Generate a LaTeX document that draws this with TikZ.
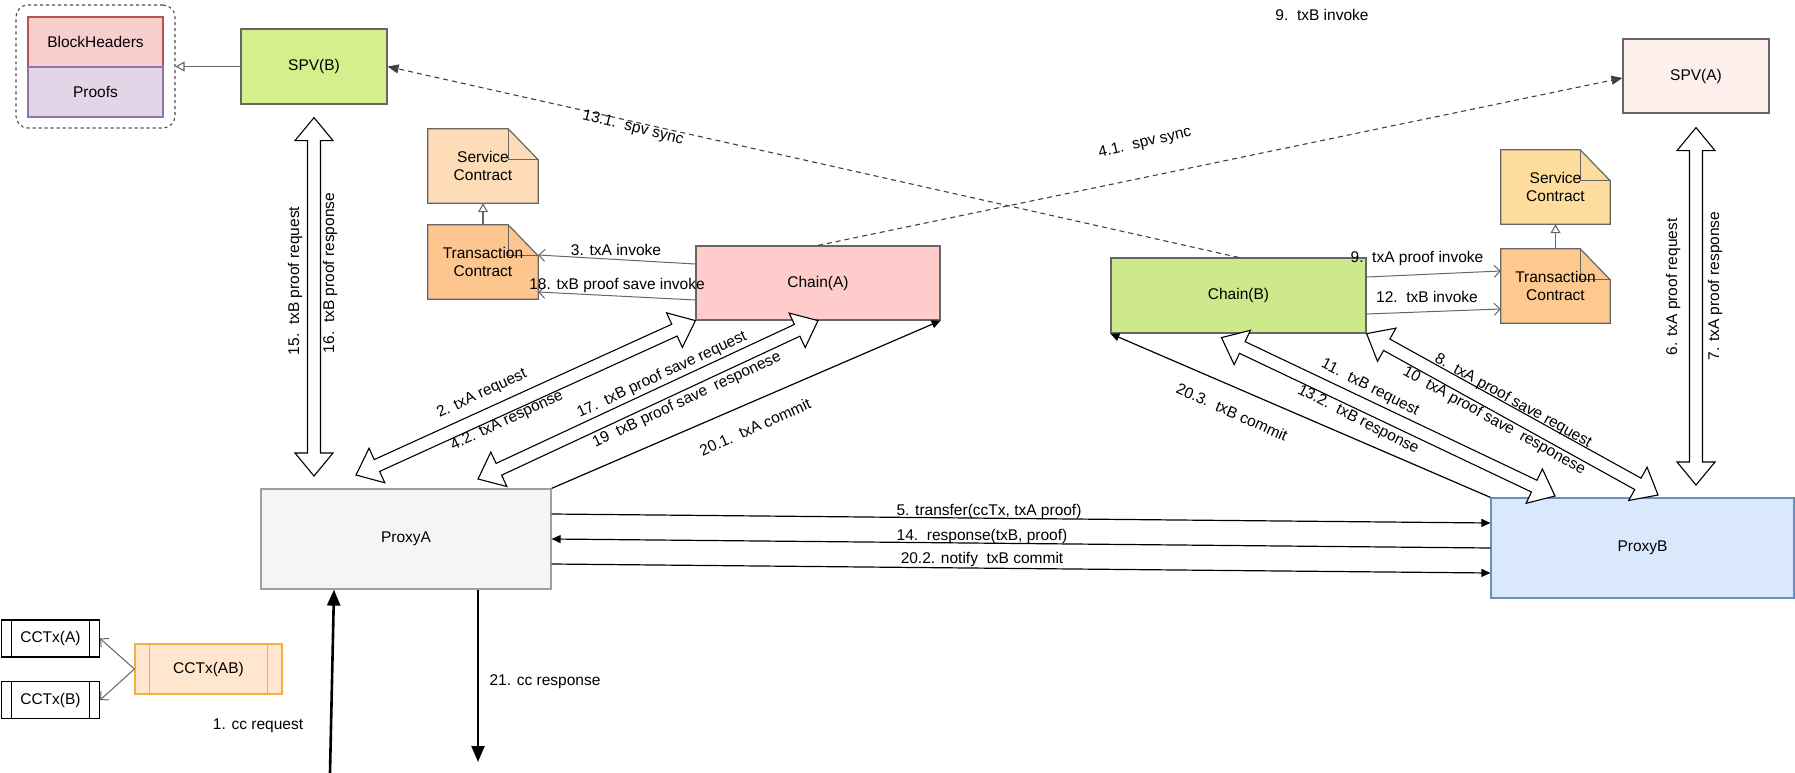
\documentclass[tikz,border=0pt]{standalone}
\usepackage{fontspec}
\setmainfont{Liberation Sans}
\usetikzlibrary{arrows.meta,calc}
\pgfdeclarelayer{bg}
\pgfsetlayers{bg,main}
\definecolor{cBH}{HTML}{F8CECC}\definecolor{sBH}{HTML}{B85450}
\definecolor{cPR}{HTML}{E1D5E7}\definecolor{sPR}{HTML}{9673A6}
\definecolor{cLime}{HTML}{D5EF8C}\definecolor{cChainB}{HTML}{CDE98C}
\definecolor{cChainA}{HTML}{FFCCCC}
\definecolor{cSpvA}{HTML}{FDF0EC}
\definecolor{cSvcL}{HTML}{FFDCB8}\definecolor{cTrL}{HTML}{FCC68E}
\definecolor{cSvcR}{HTML}{FEDC9E}\definecolor{cTrR}{HTML}{FDC98F}
\definecolor{cPxA}{HTML}{F5F5F5}\definecolor{sPxA}{HTML}{A0A0A0}
\definecolor{cPxB}{HTML}{DAE8FC}\definecolor{sPxB}{HTML}{6C8EBF}
\definecolor{cAB}{HTML}{FFE6CC}\definecolor{sAB}{HTML}{F0B040}
\definecolor{sGray}{HTML}{666666}
\newcommand\drawnote[2]{%
 \begin{pgfonlayer}{bg}
 \filldraw[fill=#2,draw=sGray,line width=1.2pt] (#1.south west) -- (#1.north west) -- ([xshift=-30pt]#1.north east) -- ([yshift=-31pt]#1.north east) -- (#1.south east) -- cycle;
 \draw[draw=sGray,line width=1.2pt] ([xshift=-30pt]#1.north east) -- ([xshift=-30pt,yshift=-31pt]#1.north east) -- ([yshift=-31pt]#1.north east);
 \end{pgfonlayer}}
\newcommand\flexdbl[2]{%
 \filldraw[flexst] (#1)
 -- ($(#1)!23pt!(#2)!19pt!90:(#2)$)
 -- ($(#1)!23pt!(#2)!6.5pt!90:(#2)$)
 -- ($(#2)!23pt!(#1)!6.5pt!90:(#2)$)
 -- ($(#2)!23pt!(#1)!19pt!90:(#2)$)
 -- (#2)
 -- ($(#2)!23pt!(#1)!19pt!270:(#2)$)
 -- ($(#2)!23pt!(#1)!6.5pt!270:(#2)$)
 -- ($(#1)!23pt!(#2)!6.5pt!270:(#2)$)
 -- ($(#1)!23pt!(#2)!19pt!270:(#2)$)
 -- cycle;}
\newcommand\procbar[2]{%
 \draw[line width=1.2pt,draw=#2] ([xshift=#1]\procname.north west) -- ([xshift=#1]\procname.south west);
 \draw[line width=1.2pt,draw=#2] ([xshift=-#1]\procname.north east) -- ([xshift=-#1]\procname.south east);}
\begin{document}
\begin{tikzpicture}[x=1pt,y=-1pt,
  font=\fontsize{15.5}{18}\selectfont,
  boxn/.style={draw=#1,line width=1.2pt,inner sep=0pt},
  notebox/.style={inner sep=0pt,align=center,minimum width=110pt,minimum height=74pt},
  flexst/.style={draw=black,fill=white,line width=1.1pt,line join=miter},
  thinarr/.style={draw=sGray,line width=1pt,-{Straight Barb[length=6pt,width=12pt]}},
  blackarr/.style={draw=black,line width=1.2pt,-{Triangle[length=9pt,width=8pt]}},
  dasharr/.style={draw=black!75,line width=1.1pt,dash pattern=on 5pt off 4pt,-{Triangle[length=11pt,width=9pt]}},
  openarr/.style={draw=sGray,line width=1.1pt,-{Triangle[open,length=9pt,width=10pt]}},
  lbl/.style={inner sep=0pt,text=black}]
\useasboundingbox (0,0) rectangle (1795,773);
% group box
\node[draw=black!70,dashed,line width=1.1pt,rounded corners=12pt,minimum width=159pt,minimum height=123pt] (grp) at (95.5,66.5) {};
\node[boxn=sBH,fill=cBH,minimum width=135pt,minimum height=50pt] (bh) at (95.5,42) {BlockHeaders};
\node[boxn=sPR,fill=cPR,minimum width=135pt,minimum height=50pt] (pr) at (95.5,92) {Proofs};
% main nodes
\node[boxn=sGray,fill=cLime,minimum width=146pt,minimum height=75pt] (spvB) at (314,66.5) {SPV(B)};
\node[boxn=sGray,fill=cSpvA,minimum width=146pt,minimum height=74pt] (spvA) at (1696,76) {SPV(A)};
\node[notebox] (svcL) at (483,166) {Service\\Contract};
\node[notebox] (trL) at (483,262) {Transaction\\Contract};
\node[notebox,minimum width=109pt] (svcR) at (1555.5,187) {Service\\Contract};
\node[notebox,minimum width=109pt] (trR) at (1555.5,286) {Transaction\\Contract};
\drawnote{svcL}{cSvcL}\drawnote{trL}{cTrL}\drawnote{svcR}{cSvcR}\drawnote{trR}{cTrR}
\node[boxn=sGray,fill=cChainA,minimum width=244pt,minimum height=74pt] (chainA) at (818,283) {Chain(A)};
\node[boxn=sGray,fill=cChainB,minimum width=255pt,minimum height=75pt] (chainB) at (1238.5,295.5) {Chain(B)};
\node[boxn=sPxA,fill=cPxA,minimum width=290pt,minimum height=100pt] (pxA) at (406,539) {ProxyA};
\node[boxn=sPxB,fill=cPxB,minimum width=303pt,minimum height=100pt] (pxB) at (1642.5,548) {ProxyB};
\node[boxn=black,fill=white,minimum width=98pt,minimum height=37pt] (ccA) at (50.5,638.5) {CCTx(A)};
\node[boxn=black,fill=white,minimum width=98pt,minimum height=37pt] (ccB) at (50.5,700) {CCTx(B)};
\node[boxn=sAB,fill=cAB,minimum width=147pt,minimum height=50pt] (ccAB) at (208.5,669) {CCTx(AB)};
\def\procname{ccA}\procbar{10.5pt}{black}
\def\procname{ccB}\procbar{10.5pt}{black}
\def\procname{ccAB}\procbar{15pt}{sAB}
% simple connectors
\draw[openarr] (spvB.west) -- (grp.east);
\draw[openarr] (trL.north) -- (svcL.south);
\draw[openarr] (trR.north) -- (svcR.south);
\draw[dasharr] (chainB.north) -- (spvB.east);
\draw[dasharr] (chainA.north) -- ([yshift=-2pt]spvA.west);
\draw[thinarr] ([yshift=19pt]chainA.west) -- ([yshift=7pt]trL.east);
\draw[thinarr] ([yshift=-17pt]chainA.west) -- ([yshift=-30pt]trL.east);
\draw[thinarr] ([yshift=18.5pt]chainB.east) -- ([yshift=15pt]trR.west);
\draw[thinarr] ([yshift=-18.5pt]chainB.east) -- ([yshift=-23pt]trR.west);
\draw[thinarr] (ccAB.west) -- (ccA.east);
\draw[thinarr] (ccAB.west) -- (ccB.east);
\draw[blackarr] ([yshift=25pt]pxA.east) -- ([yshift=25pt]pxB.west);
\draw[blackarr] (pxB.west) -- (pxA.east);
\draw[blackarr] ([yshift=-25pt]pxA.east) -- ([yshift=-25pt]pxB.west);
\draw[blackarr] (pxA.north east) -- (chainA.south east);
\draw[blackarr] (pxB.north west) -- (chainB.south west);
\coordinate (ccin) at (330,773);
\coordinate (ccout) at (478,762);
\draw[draw=black,line width=2.6pt,-{Triangle[length=16pt,width=13pt]}] (ccin) -- ([xshift=-72pt]pxA.south);
\draw[draw=black,line width=2.2pt,-{Triangle[length=16pt,width=13pt]}] ([xshift=72pt]pxA.south) -- (ccout);
% flex arrows
\coordinate (fbT) at ([yshift=-13pt]spvB.south);
\coordinate (fbB) at (314,476);
\coordinate (faT) at ([yshift=-14pt]spvA.south);
\coordinate (faB) at (1696,485);
\coordinate (f1a) at (356,475);
\coordinate (f2a) at (478,479);
\coordinate (f3a) at ([xshift=-17pt,yshift=-4pt]chainB.south);
\coordinate (f3b) at (1555,496);
\coordinate (f4b) at (1658,495);
\flexdbl{fbT}{fbB}
\flexdbl{faT}{faB}
\flexdbl{f1a}{chainA.south west}
\flexdbl{f2a}{chainA.south}
\flexdbl{f3a}{f3b}
\flexdbl{chainB.south east}{f4b}
% labels
\node[lbl] (l91) at (1322,15) {9.\ \ txB invoke};
\node[lbl,rotate=-14] (l131) at (633,128) {13.1.\ \ spv sync};
\node[lbl,rotate=13] (l41) at (1145,143) {4.1.\ \ spv sync};
\node[lbl] (l3) at (616,250) {3. txA invoke};
\node[lbl] (l18) at (617,285) {18. txB proof save invoke};
\node[lbl] (l9) at (1417,258) {9.\ \ txA proof invoke};
\node[lbl] (l12) at (1427,297) {12.\ \ txB invoke};
\node[lbl,rotate=90] (l15) at (295,281) {15.\ \ txB proof request};
\node[lbl,rotate=90] (l16) at (330,273) {16.\ \ txB proof response};
\node[lbl,rotate=90] (l6) at (1673,287) {6. txA proof request};
\node[lbl,rotate=90] (l7) at (1715,286) {7. txA proof response};
\node[lbl,rotate=25] (l2) at (482,394) {2. txA request};
\node[lbl,rotate=25] (l42) at (507,421) {4.2. txA response};
\node[lbl,rotate=25] (l17) at (662,375) {17.\ \ txB proof save request};
\node[lbl,rotate=25] (l19) at (687,400) {19\ \ txB proof save\ \ responese};
\node[lbl,rotate=24] (l201) at (755,427) {20.1.\ \ txA commit};
\node[lbl,rotate=-27] (l11) at (1370,388) {11.\ \ txB request};
\node[lbl,rotate=-27] (l132) at (1358,420) {13.2.\ \ txB response};
\node[lbl,rotate=-24] (l203) at (1232,412) {20.3.\ \ txB commit};
\node[lbl,rotate=-29] (l8) at (1513,401) {8.\ \ txA proof save request};
\node[lbl,rotate=-29] (l10) at (1494,421) {10\ \ txA proof save\ \ responese};
\node[lbl] (l5) at (989,511) {5. transfer(ccTx, txA proof)};
\node[lbl] (l14) at (982,536) {14.\ \ response(txB, proof)};
\node[lbl] (l202) at (982,559) {20.2. notify\ \ txB commit};
\node[lbl] (l1) at (258,726) {1. cc request};
\node[lbl] (l21) at (545,682) {21. cc response};
\end{tikzpicture}
\end{document}
